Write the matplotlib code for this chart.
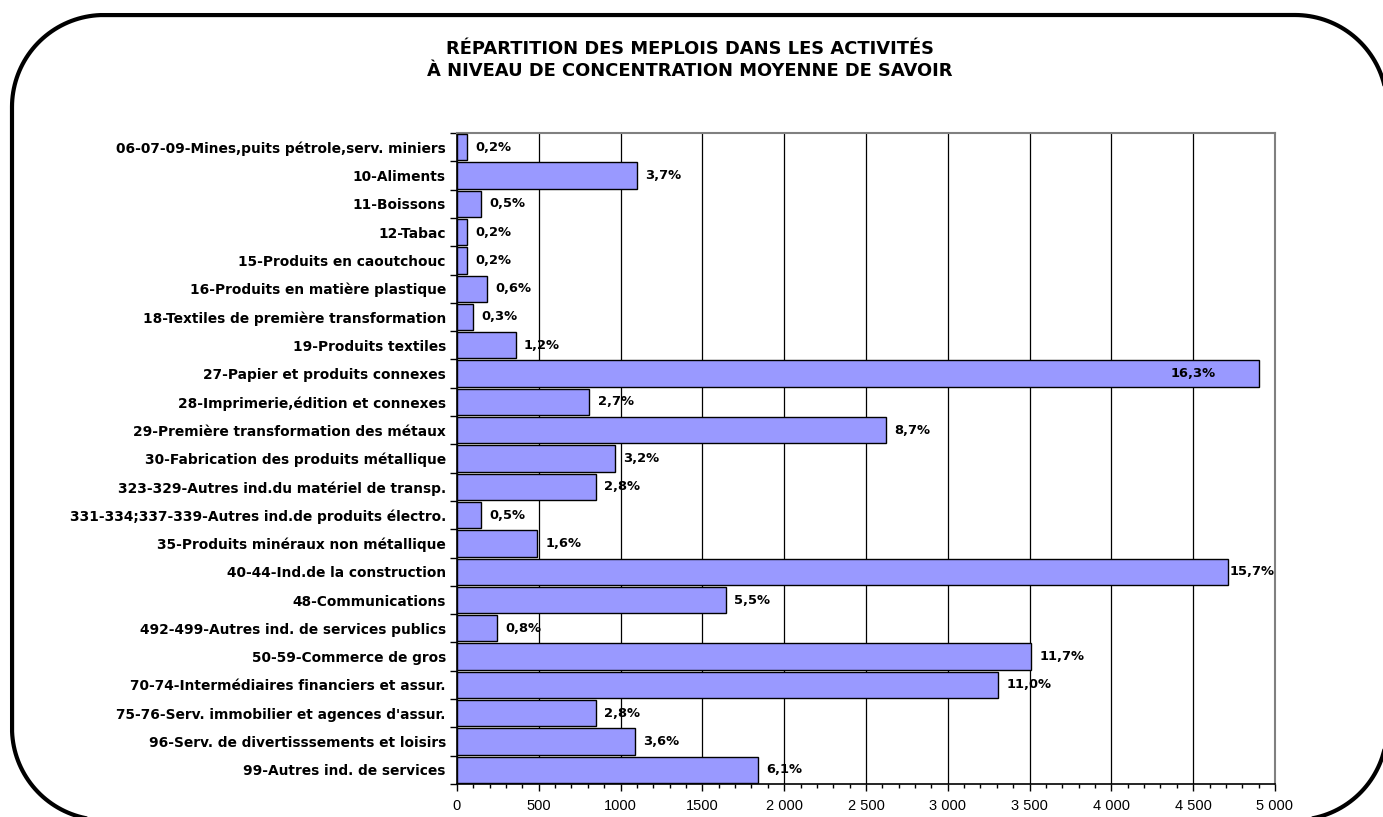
import matplotlib.pyplot as plt
from matplotlib import font_manager
import numpy as np

# categories, top to bottom
categories = [
    "06-07-09-Mines,puits pétrole,serv. miniers",
    "10-Aliments",
    "11-Boissons",
    "12-Tabac",
    "15-Produits en caoutchouc",
    "16-Produits en matière plastique",
    "18-Textiles de première transformation",
    "19-Produits textiles",
    "27-Papier et produits connexes",
    "28-Imprimerie,édition et connexes",
    "29-Première transformation des métaux",
    "30-Fabrication des produits métallique",
    "323-329-Autres ind.du matériel de transp.",
    "331-334;337-339-Autres ind.de produits électro.",
    "35-Produits minéraux non métallique",
    "40-44-Ind.de la construction",
    "48-Communications",
    "492-499-Autres ind. de services publics",
    "50-59-Commerce de gros",
    "70-74-Intermédiaires financiers et assur.",
    "75-76-Serv. immobilier et agences d'assur.",
    "96-Serv. de divertisssements et loisirs",
    "99-Autres ind. de services",
]
emplois = [60, 1100, 146, 60, 60, 182, 100, 360, 4900, 810, 2620, 965, 850,
           150, 490, 4715, 1645, 243, 3510, 3308, 850, 1088, 1842]
pct_labels = ["0,2%", "3,7%", "0,5%", "0,2%", "0,2%", "0,6%", "0,3%", "1,2%",
              "16,3%", "2,7%", "8,7%", "3,2%", "2,8%", "0,5%", "1,6%", "15,7%",
              "5,5%", "0,8%", "11,7%", "11,0%", "2,8%", "3,6%", "6,1%"]
xticks = [0, 500, 1000, 1500, 2000, 2500, 3000, 3500, 4000, 4500, 5000]
xtick_labels = ["0", "500", "1000", "1500", "2 000", "2 500", "3 000",
                "3 500", "4 000", "4 500", "5 000"]

installed = {f.name for f in font_manager.fontManager.ttflist}
narrow = 'Liberation Sans Narrow' if 'Liberation Sans Narrow' in installed else 'Liberation Sans'
bold_font = ['DejaVu Sans']

plt.rcParams['font.family'] = ['Liberation Sans', 'DejaVu Sans']


def rounded_rect(x0, y0, x1, y1, r, n=40):
    # closed outline with circular corners, inches
    pts = []
    corners = [(x1 - r, y1 - r, 0), (x0 + r, y1 - r, 90),
               (x0 + r, y0 + r, 180), (x1 - r, y0 + r, 270)]
    for cx, cy, a0 in corners:
        t = np.radians(np.linspace(a0, a0 + 90, n))
        pts.append(np.column_stack([cx + r * np.cos(t), cy + r * np.sin(t)]))
    pts = np.vstack(pts + [pts[0][:1]])
    return pts[:, 0], pts[:, 1]


fig = plt.figure(figsize=(13.83, 8.17), dpi=100)

# rounded frame around the chart (partly cut off right and bottom)
fx, fy = rounded_rect(0.12, -0.03, 13.87, 8.02, 0.92)
fig.add_artist(plt.Line2D(fx, fy, transform=fig.dpi_scale_trans,
                          color='black', linewidth=3.0,
                          solid_joinstyle='round', clip_on=False))

fig.text(0.499, 0.9266, "RÉPARTITION DES MEPLOIS DANS LES ACTIVITÉS\n"
         "À NIVEAU DE CONCENTRATION MOYENNE DE SAVOIR",
         ha='center', va='center', fontsize=12.9, fontweight='bold',
         family=bold_font, linespacing=1.25)

ax = fig.add_axes([0.3304, 0.0404, 0.5915, 0.7968])
y = np.arange(len(categories))
ax.barh(y, emplois, height=0.93, color='#9999FF', edgecolor='black',
        linewidth=1.0, zorder=3)

ax.set_xlim(0, 5000)
ax.set_ylim(len(categories) - 0.5, -0.5)
ax.set_xticks(xticks)
ax.set_xticklabels(xtick_labels, fontsize=10.5, family=narrow)
ax.set_xticks(np.arange(0, 5001, 100), minor=True)
ax.tick_params(axis='x', which='major', length=5, width=1, pad=6)
ax.tick_params(axis='x', which='minor', length=3, width=1)

ax.set_yticks(y)
ax.set_yticklabels(categories, fontsize=9.9, fontweight='bold',
                   family=bold_font)
ax.set_yticks(np.arange(-0.5, len(categories), 1), minor=True)
ax.tick_params(axis='y', which='major', length=0, pad=8)
ax.tick_params(axis='y', which='minor', length=5, width=1)

ax.grid(axis='x', which='major', color='black', linewidth=0.9, zorder=0)
ax.set_axisbelow(True)
for side in ['top', 'right']:
    ax.spines[side].set_color('#808080')
    ax.spines[side].set_linewidth(1.5)
for side in ['left', 'bottom']:
    ax.spines[side].set_color('black')
    ax.spines[side].set_linewidth(1.2)

for yi, v, lab in zip(y, emplois, pct_labels):
    kw = dict(va='center', fontsize=9.4, fontweight='bold', family=bold_font,
              zorder=4)
    if v > 4800:
        ax.text(v - 260, yi, lab, ha='right', **kw)
    elif v > 4500:
        ax.text(5000, yi, lab, ha='right', **kw)
    else:
        ax.text(v + 50, yi, lab, ha='left', **kw)

fig.savefig("out.png", dpi=100)
